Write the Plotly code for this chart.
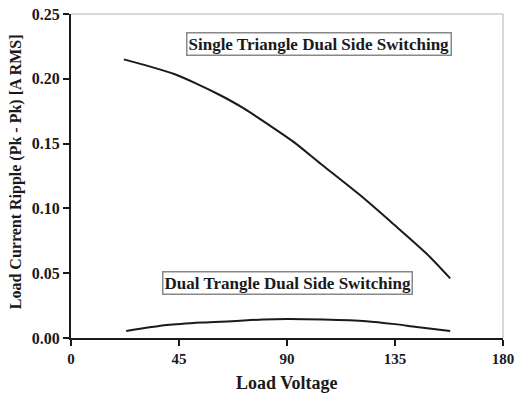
import plotly.graph_objects as go

single_v = [22, 33, 43, 52, 62, 72, 81.5, 92.6, 104, 120.4, 134.3, 148.2, 158]
single_r = [0.2150, 0.2094, 0.2037, 0.1965, 0.1875, 0.1772, 0.1656, 0.1515, 0.1345, 0.1103, 0.0880, 0.0650, 0.0460]
dual_v = [23, 40, 55, 67, 80, 90, 105, 123, 135, 144, 158]
dual_r = [0.0054, 0.0100, 0.0120, 0.0130, 0.0143, 0.0147, 0.0143, 0.0130, 0.0107, 0.0085, 0.0054]
x_ticks = [0, 45, 90, 135, 180]
y_ticks = [0.00, 0.05, 0.10, 0.15, 0.20, 0.25]

font = "Liberation Serif, Times New Roman, serif"
ink = "#1a1a1a"

fig = go.Figure()
fig.add_trace(go.Scatter(x=single_v, y=single_r, mode="lines",
                         line=dict(color=ink, width=2, shape="spline", smoothing=0.8), showlegend=False))
fig.add_trace(go.Scatter(x=dual_v, y=dual_r, mode="lines",
                         line=dict(color=ink, width=2, shape="spline", smoothing=0.8), showlegend=False))

fig.add_annotation(x=90.4, y=0.0424, xref="x", yref="y", text="<b>Dual Trangle Dual Side Switching</b>",
                   showarrow=False, font=dict(family=font, size=17, color=ink),
                   bordercolor="#888888", borderwidth=1.5, borderpad=1, bgcolor="white")
fig.add_annotation(x=103.3, y=0.2269, xref="x", yref="y", text="<b>Single Triangle Dual Side Switching</b>",
                   showarrow=False, font=dict(family=font, size=17, color=ink),
                   bordercolor="#888888", borderwidth=1.5, borderpad=1, bgcolor="white")

# axis titles as annotations for precise placement
fig.add_annotation(x=0.5, y=-0.139, xref="paper", yref="paper", text="<b>Load Voltage</b>",
                   showarrow=False, font=dict(family=font, size=18, color=ink), yanchor="middle")
fig.add_annotation(x=-0.127, y=0.512, xref="paper", yref="paper", text="<b>Load Current Ripple (Pk - Pk) [A RMS]</b>",
                   showarrow=False, textangle=-90, font=dict(family=font, size=16, color=ink),
                   xanchor="center", yanchor="middle")

# top and right thin grey frame
fig.add_shape(type="line", xref="paper", yref="paper", x0=0, x1=1, y0=1, y1=1, line=dict(color="#b0b0b0", width=1))
fig.add_shape(type="line", xref="paper", yref="paper", x0=1, x1=1, y0=0, y1=1, line=dict(color="#b0b0b0", width=1))

fig.update_layout(
    width=515, height=393,
    margin=dict(l=71, r=12, t=14, b=55),
    plot_bgcolor="white", paper_bgcolor="white",
    font=dict(family=font, color=ink),
    xaxis=dict(range=[0, 180], tickvals=x_ticks, ticktext=[f"<b>{v}</b>" for v in x_ticks],
               showgrid=False, zeroline=False, showline=True, linecolor=ink, linewidth=2,
               ticks="outside", ticklen=6, tickwidth=2, tickcolor=ink, automargin=False,
               tickfont=dict(family=font, size=15)),
    yaxis=dict(range=[0, 0.25], tickvals=y_ticks, ticktext=[f"<b>{v:.2f}</b>" for v in y_ticks],
               showgrid=False, zeroline=False, showline=True, linecolor=ink, linewidth=2,
               ticks="outside", ticklen=6, tickwidth=2, tickcolor=ink, automargin=False,
               tickfont=dict(family=font, size=16)),
)

fig.write_html("out.html", config={"displayModeBar": False},
               post_script="document.body.style.margin='0';document.body.style.padding='0';document.body.style.overflow='hidden';")
